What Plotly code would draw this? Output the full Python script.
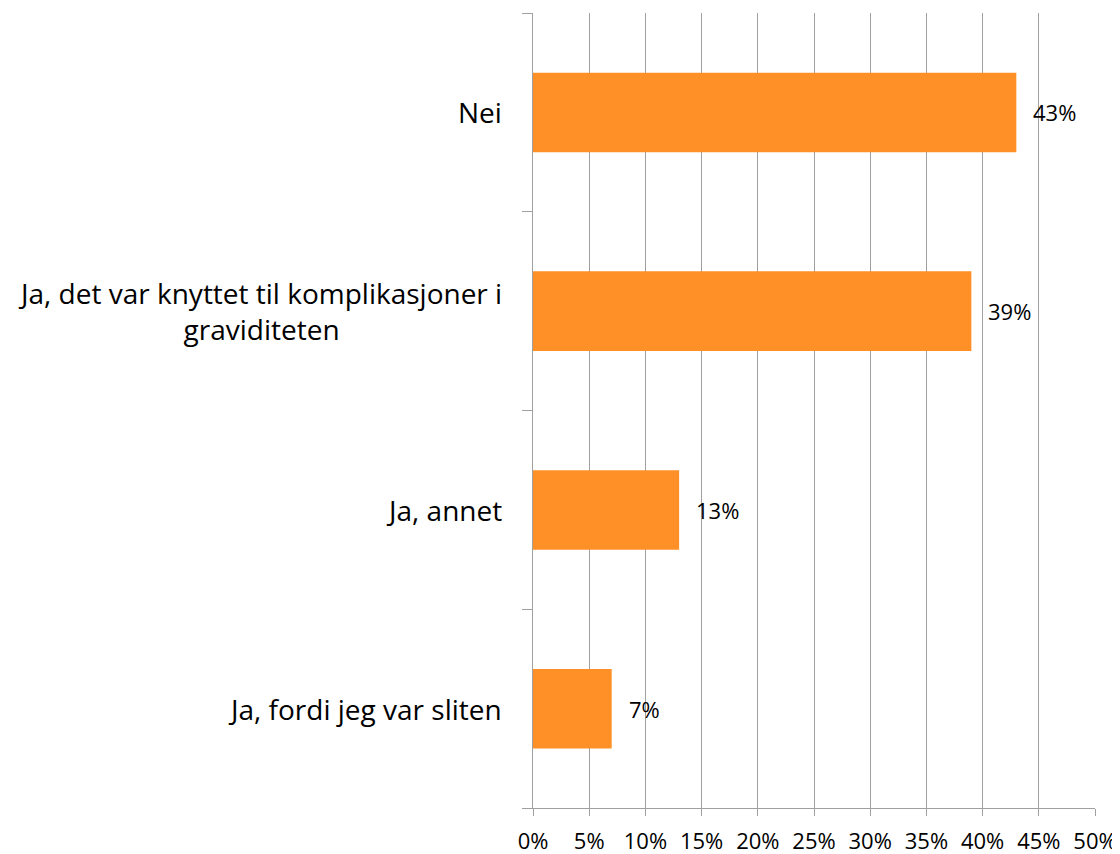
import plotly.graph_objects as go

# kategorier (ovenfra og ned) og andeler i prosent
kategorier = ["Nei", "Ja, det var knyttet til komplikasjoner i<br>graviditeten",
              "Ja, annet", "Ja, fordi jeg var sliten"]
andeler = [43, 39, 13, 7]
x_ticks = list(range(0, 51, 5))
x_ticktext = [f"{t}%" for t in x_ticks]

orange = "#FF8F27"
grid = "#A0A0A0"
font = "Open Sans"

fig = go.Figure()
fig.add_trace(go.Bar(
    x=andeler, y=kategorier, orientation="h",
    marker=dict(color=orange, line=dict(width=0)),
    width=0.4, hoverinfo="skip",
))

# dataetiketter til høyre for stolpene
for v, k in zip(andeler, kategorier):
    fig.add_annotation(x=v, y=k, text=f"{v}%", showarrow=False,
                       xanchor="left", xshift=15,
                       font=dict(family=font, size=22, color="#000"))

# kategoritekster, sentrert over flere linjer
for k in kategorier:
    fig.add_annotation(x=0, y=k, xref="paper", text=k, showarrow=False,
                       xanchor="right", xshift=-29, align="center",
                       font=dict(family=font, size=28, color="#000"))

# siden har 8 px marg rundt figuren
fig.update_layout(
    width=1112, height=846,
    margin=dict(l=525, r=25, t=5, b=46),
    plot_bgcolor="white", paper_bgcolor="white",
    showlegend=False,
    font=dict(family=font, color="#000"),
)
fig.update_xaxes(
    range=[0, 50], tickvals=x_ticks, ticktext=x_ticktext,
    showgrid=True, gridcolor=grid, gridwidth=1,
    showline=True, linecolor=grid, linewidth=1,
    ticks="outside", ticklen=7, tickcolor=grid,
    ticklabelstandoff=7, automargin=False,
    tickfont=dict(size=22, family=font), zeroline=False,
)
fig.update_yaxes(
    categoryorder="array", categoryarray=kategorier[::-1],
    showticklabels=False, tickson="boundaries",
    ticks="outside", ticklen=10, tickcolor=grid,
    showline=True, linecolor=grid, linewidth=1, showgrid=False,
)

fig.write_html("out.html")
